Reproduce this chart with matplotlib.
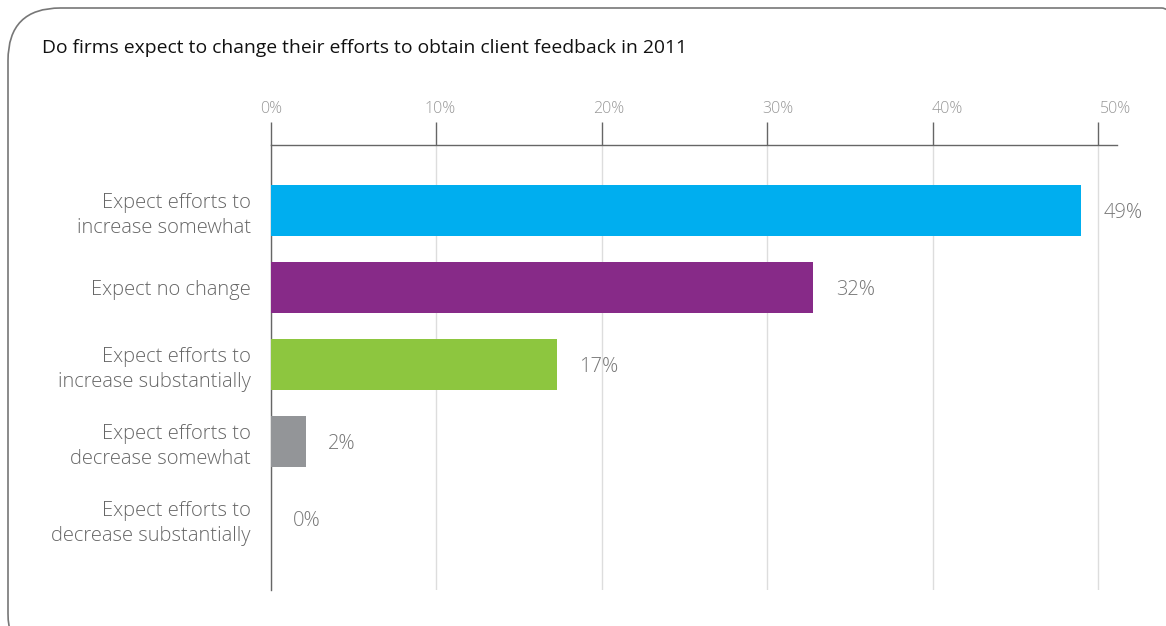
import matplotlib
matplotlib.use("Agg")
import matplotlib.pyplot as plt
from matplotlib.patches import FancyBboxPatch
from matplotlib.transforms import ScaledTranslation

title = "Do firms expect to change their efforts to obtain client feedback in 2011"
categories = [
    "Expect efforts to\nincrease somewhat",
    "Expect no change",
    "Expect efforts to\nincrease substantially",
    "Expect efforts to\ndecrease somewhat",
    "Expect efforts to\ndecrease substantially",
]
values = [49.0, 32.8, 17.3, 2.1, 0.0]
value_labels = ["49%", "32%", "17%", "2%", "0%"]
colors = ["#00AEEF", "#872A88", "#8DC63F", "#939598", "#939598"]
xticks = [0, 10, 20, 30, 40, 50]
xtick_labels = ["0%", "10%", "20%", "30%", "40%", "50%"]

plt.rcParams['font.family'] = ['Open Sans', 'DejaVu Sans']

W, H = 1166, 626
fig = plt.figure(figsize=(W / 100, H / 100), dpi=100)

# rounded frame
frame = FancyBboxPatch((8 / W, -40 / H), (W + 40) / W, (H + 40 - 8) / H,
                       boxstyle="round,pad=0,rounding_size=0.045",
                       transform=fig.transFigure, fill=False,
                       edgecolor="#777777", linewidth=1.2,
                       mutation_aspect=W / H)
fig.patches.append(frame)

fig.text(42 / W, 1 - 48 / H, title, fontsize=13.9, fontweight='medium',
         color="#111111", va='center', ha='left')

ax = fig.add_axes([271 / W, 1 - 590 / H, (1117 - 271) / W, (590 - 145) / H])
y = list(range(len(categories)))
ax.barh(y, values, height=0.66, color=colors, zorder=3)
ax.set_ylim(4.93, -0.85)
ax.set_xlim(0, 51.15)

ax.xaxis.tick_top()
ax.set_xticks(xticks)
ax.set_xticklabels(xtick_labels, color="#999999", fontsize=11.5, fontweight='light')
ax.tick_params(axis='x', direction='out', length=16.5, width=1.0, color="#666666", pad=4)
# labels in the reference drift slightly right of their ticks
for i, lab in enumerate(ax.xaxis.get_majorticklabels()):
    lab.set_transform(lab.get_transform() + ScaledTranslation(i * 3.6 / 100, 0, fig.dpi_scale_trans))

ax.set_yticks(y)
ax.set_yticklabels(categories, fontsize=14.5, color="#666666", fontweight='light',
                   linespacing=1.35)
ax.tick_params(axis='y', length=0, pad=14.5)

ax.grid(axis='x', color="#dddddd", linewidth=1.0, zorder=0)
for s in ['right', 'bottom']:
    ax.spines[s].set_visible(False)
ax.spines['top'].set_color("#666666")
ax.spines['left'].set_color("#666666")
ax.spines['top'].set_linewidth(1.0)
ax.spines['left'].set_linewidth(1.0)

for yi, v, lab in zip(y, values, value_labels):
    ax.text(v + 1.35, yi + 0.03, lab, va='center', ha='left', fontsize=14.5,
            color="#777777", fontweight='light')

fig.savefig("out.png", dpi=100)
